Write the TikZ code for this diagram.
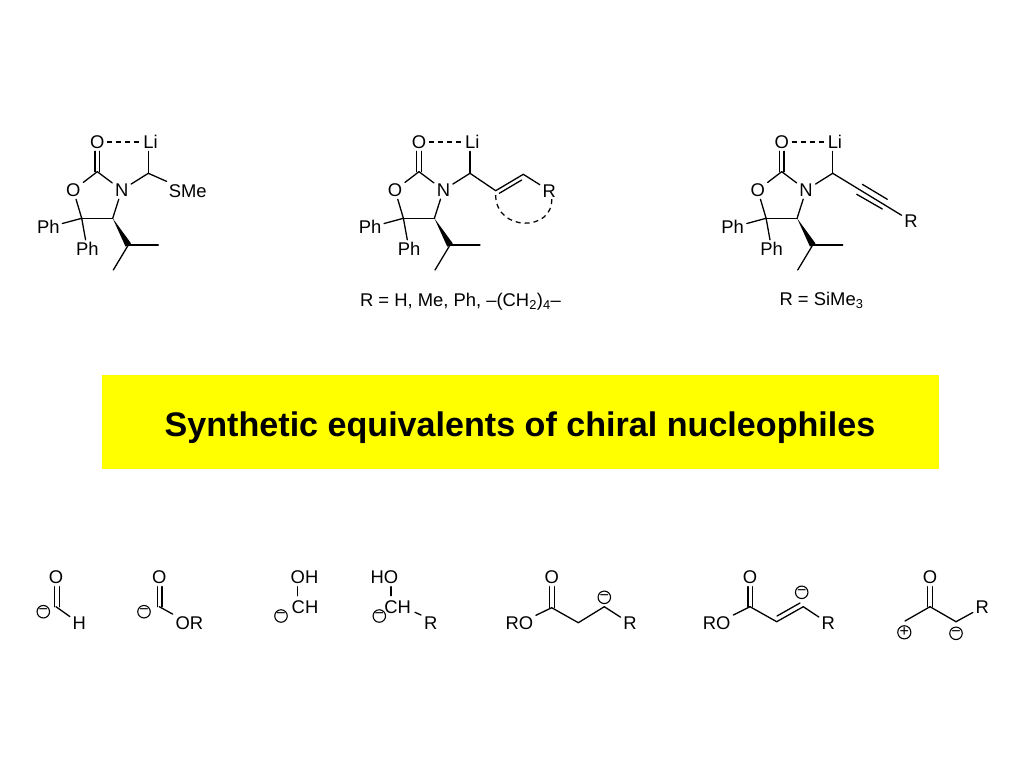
\documentclass[tikz,border=0pt]{standalone}
\usepackage{fontspec}
\setmainfont{Liberation Sans}
\usetikzlibrary{calc}
\definecolor{ink}{RGB}{0,0,0}
\definecolor{bannerfill}{RGB}{255,255,0}
\tikzset{
  atom/.style={inner sep=2.6pt,font=\fontsize{18.4}{20}\selectfont,text=ink},
  plain/.style={inner sep=0pt,font=\fontsize{18.4}{20}\selectfont,text=ink},
  bond/.style={line width=1.3pt,line cap=round,draw=ink},
  hbond/.style={line width=1.25pt,dash pattern=on 5pt off 4pt,draw=ink},
  up/.style={transform canvas={xshift=#1}},
  charge/.style={circle,draw=ink,line width=1.1pt,minimum size=12.5pt,inner sep=0pt,font=\fontsize{16}{16}\selectfont,text=ink},
  banner/.style={fill=bannerfill,draw=none,minimum width=837pt,minimum height=94pt,inner sep=0pt,text=ink},
  bannertext/.style={inner sep=0pt,font=\fontsize{34.1}{36}\bfseries\selectfont,text=ink}
}
\newcommand{\oxazcore}{%
  \node[atom] (ox) at (97.3,142) {O};
  \node[atom] (li) at (150.5,142) {Li};
  \coordinate (c2) at (97.3,171.7);
  \node[atom] (o1) at (73.3,190) {O};
  \node[atom] (n) at (121.7,190) {N};
  \coordinate (c5) at (81.7,218.3);
  \coordinate (c4) at (112.7,218.3);
  \coordinate (ch) at (128.3,245);
  \coordinate (me1) at (158.3,245);
  \coordinate (me2) at (113.3,270);
  \node[atom] (ph1) at (48.3,227.3) {Ph};
  \node[atom] (ph2) at (87.3,249.3) {Ph};
  \coordinate (cli) at (148.3,173.3);
  \draw[bond,up=-2.4pt] (c2) -- (ox);
  \draw[bond,up=2.4pt] (c2) -- (ox);
  \draw[hbond] (ox) -- (li);
  \draw[bond] (c2) -- (o1);
  \draw[bond] (c2) -- (n);
  \draw[bond] (o1) -- (c5);
  \draw[bond] (c5) -- (c4);
  \draw[bond] (n) -- (c4);
  \draw[bond] (c5) -- (ph1);
  \draw[bond] (c5) -- (ph2);
  \fill[ink] (c4) -- ($(ch)!3.2pt!90:(c4)$) -- ($(ch)!3.2pt!-90:(c4)$) -- cycle;
  \draw[bond] (ch) -- (me1);
  \draw[bond] (ch) -- (me2);
  \draw[bond] (n) -- (cli);
  \draw[bond] (cli) -- (cli |- li.south);
}
\begin{document}
\begin{tikzpicture}[x=1pt,y=-1pt]
\useasboundingbox (0,0) rectangle (1024,768);
\fill[white] (0,0) rectangle (1024,768);

% first auxiliary
\begin{scope}[name prefix=a-]
  \oxazcore
  \node[atom] (sme) at (187.7,190.7) {SMe};
  \draw[bond] (cli) -- (sme);
\end{scope}

% second auxiliary
\begin{scope}[shift={(321.7,0)},name prefix=b-]
  \oxazcore
  \coordinate (v1) at (174,190.7);
  \coordinate (v2) at (201.6,174.3);
  \coordinate (i1) at (177.6,193.3);
  \coordinate (i2) at (200,180);
  \coordinate (d1) at (174,195);
  \coordinate (d2) at (230,198.3);
  \node[atom] (r) at (227.6,190.7) {R};
  \draw[bond] (cli) -- (v1);
  \draw[bond] (v1) -- (v2);
  \draw[bond] (i1) -- (i2);
  \draw[bond] (v2) -- (r);
  \draw[hbond] (d1) .. controls (174,232) and (232,232) .. (d2);
\end{scope}
\node[plain] (rb) at (460.5,301.5) {R = H, Me, Ph, –(CH\textsubscript{2})\textsubscript{4}–};

% third auxiliary
\begin{scope}[shift={(684.4,0)},name prefix=c-]
  \oxazcore
  \node[atom] (r) at (226.6,221) {R};
  \draw[bond] (cli) -- (r);
  \coordinate (t1) at (177.9,184.3);
  \coordinate (t2) at (202.9,199.3);
  \coordinate (t3) at (172.3,194.3);
  \coordinate (t4) at (197.9,209);
  \draw[bond] (t1) -- (t2);
  \draw[bond] (t3) -- (t4);
\end{scope}
\node[plain] (rc) at (821.5,300) {R = SiMe\textsubscript{3}};

% banner
\node[banner] (title) at (520.5,422) {};
\node[bannertext] (titletext) at (520,427.5) {Synthetic equivalents of chiral nucleophiles};

% bottom row
\begin{scope}[name prefix=d-]
  \node[atom] (o) at (56,577.3) {O};
  \coordinate (c) at (56,606.7);
  \node[atom] (h) at (79.3,623.3) {H};
  \draw[bond,up=-1.3pt] (c) -- (o);
  \draw[bond,up=3.3pt] (c) -- (o);
  \draw[bond] (c) -- (h);
  \node[charge] (q) at (43.3,611.7) {−};
\end{scope}

\begin{scope}[name prefix=e-]
  \node[atom] (o) at (159.3,577.3) {O};
  \coordinate (c) at (159.3,606.7);
  \node[atom] (or) at (189.3,623.3) {OR};
  \draw[bond,up=-2pt] (c) -- (o);
  \draw[bond,up=2.6pt] (c) -- (o);
  \draw[bond] (c) -- (or);
  \node[charge] (q) at (144,611.7) {−};
\end{scope}

\begin{scope}[name prefix=f-]
  \node[atom] (oh) at (304.5,577.3) {OH};
  \node[atom] (cc) at (305,607.3) {CH};
  \coordinate (s1) at (297.7,586.7);
  \coordinate (s2) at (297.7,595.7);
  \draw[bond] (s1) -- (s2);
  \node[charge] (q) at (281,616) {−};
\end{scope}

\begin{scope}[name prefix=g-]
  \node[atom] (ho) at (384.3,576.7) {HO};
  \node[atom] (cc) at (397.7,607.3) {CH};
  \node[atom] (r) at (430.7,622.7) {R};
  \coordinate (s1) at (391,586.7);
  \coordinate (s2) at (391,595.7);
  \coordinate (s3) at (415,612.3);
  \coordinate (s4) at (421,615);
  \draw[bond] (s1) -- (s2);
  \draw[bond] (s3) -- (s4);
  \node[charge] (q) at (379.3,616) {−};
\end{scope}

\begin{scope}[name prefix=h-]
  \node[atom] (o) at (551.7,577.3) {O};
  \coordinate (c) at (551.7,607.7);
  \node[atom] (ro) at (519.3,623.3) {RO};
  \coordinate (c2) at (578.3,622.7);
  \coordinate (c3) at (604.3,606.7);
  \node[atom] (r) at (630,623.3) {R};
  \draw[bond,up=-2pt] (c) -- (o);
  \draw[bond,up=2.6pt] (c) -- (o);
  \draw[bond] (c) -- (ro);
  \draw[bond] (c) -- (c2);
  \draw[bond] (c2) -- (c3);
  \draw[bond] (c3) -- (r);
  \node[charge] (q) at (604.3,597.3) {−};
\end{scope}

\begin{scope}[name prefix=i-]
  \node[atom] (o) at (750,577.3) {O};
  \coordinate (c) at (750,606.7);
  \node[atom] (ro) at (716.7,623.3) {RO};
  \coordinate (c2) at (776.7,621.7);
  \coordinate (c3) at (803.3,606.7);
  \coordinate (i1) at (777,616);
  \coordinate (i2) at (800,603);
  \node[atom] (r) at (828.3,623.3) {R};
  \draw[bond,up=-2pt] (c) -- (o);
  \draw[bond,up=2.6pt] (c) -- (o);
  \draw[bond] (c) -- (ro);
  \draw[bond] (c) -- (c2);
  \draw[bond] (c2) -- (c3);
  \draw[bond] (i1) -- (i2);
  \draw[bond] (c3) -- (r);
  \node[charge] (q) at (801.7,592.3) {−};
\end{scope}

\begin{scope}[name prefix=j-]
  \node[atom] (o) at (930,577.3) {O};
  \coordinate (c) at (930,606.7);
  \coordinate (c1) at (905,621);
  \coordinate (c3) at (956,621.7);
  \node[atom] (r) at (982.3,607.3) {R};
  \draw[bond,up=-2.3pt] (c) -- (o);
  \draw[bond,up=2.3pt] (c) -- (o);
  \draw[bond] (c) -- (c1);
  \draw[bond] (c) -- (c3);
  \draw[bond] (c3) -- (r);
  \node[charge] (p) at (904.3,632.3) {+};
  \node[charge] (q) at (956,633.3) {−};
\end{scope}
\end{tikzpicture}
\end{document}
